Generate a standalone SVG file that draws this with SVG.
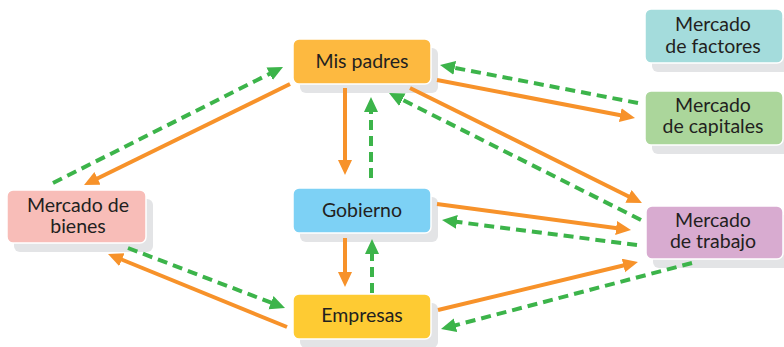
<svg xmlns="http://www.w3.org/2000/svg" width="784" height="347" viewBox="0 0 784 347">
<style>
.sh{fill:#e3e4e6}
.bx{stroke:#ffffff;stroke-width:1.5}
.t{font-family:Lato,"Open Sans","Liberation Sans",sans-serif;font-size:19.5px;fill:#231f20;text-anchor:middle}
.o{stroke:#f7922a;stroke-width:4;fill:none;marker-end:url(#ao)}
.g{stroke:#3cb44a;stroke-width:4;fill:none;stroke-dasharray:10 6;marker-end:url(#ag)}
</style>
<defs>
<marker id="ao" markerUnits="userSpaceOnUse" markerWidth="16" markerHeight="16" refX="3" refY="7" orient="auto"><path d="M0,0 L15,7 L0,14 z" fill="#f7922a"/></marker>
<marker id="ag" markerUnits="userSpaceOnUse" markerWidth="16" markerHeight="16" refX="3" refY="7" orient="auto"><path d="M0,0 L15,7 L0,14 z" fill="#3cb44a"/></marker>
</defs>
<rect width="784" height="347" fill="#ffffff"/>
<g id="mis-padres">
<rect class="sh" x="300" y="48" width="138" height="45" rx="6"/>
<rect class="bx" x="293" y="39" width="138" height="45" rx="6" fill="#fdb940"/>
<text class="t" x="362" y="68">Mis padres</text>
</g>
<g id="gobierno">
<rect class="sh" x="300" y="197" width="138" height="45" rx="6"/>
<rect class="bx" x="293" y="188" width="138" height="45" rx="6" fill="#7dd1f5"/>
<text class="t" x="362" y="217">Gobierno</text>
</g>
<g id="empresas">
<rect class="sh" x="300" y="303" width="138" height="45" rx="6"/>
<rect class="bx" x="293" y="294" width="138" height="45" rx="6" fill="#fecb33"/>
<text class="t" x="362" y="322">Empresas</text>
</g>
<g id="mercado-bienes">
<rect class="sh" x="14" y="199" width="139" height="53" rx="6"/>
<rect class="bx" x="7" y="190" width="139" height="53" rx="6" fill="#f8bdb8"/>
<text class="t" x="78" y="212">Mercado de</text>
<text class="t" x="78" y="233">bienes</text>
</g>
<g id="mercado-factores">
<rect class="sh" x="652" y="18" width="138" height="54" rx="6"/>
<rect class="bx" x="645" y="9" width="138" height="54" rx="6" fill="#a4dcdc"/>
<text class="t" x="713" y="31">Mercado</text>
<text class="t" x="713" y="53">de factores</text>
</g>
<g id="mercado-capitales">
<rect class="sh" x="652" y="100" width="138" height="54" rx="6"/>
<rect class="bx" x="645" y="91" width="138" height="54" rx="6" fill="#abd69b"/>
<text class="t" x="713" y="112">Mercado</text>
<text class="t" x="713" y="133">de capitales</text>
</g>
<g id="mercado-trabajo">
<rect class="sh" x="653" y="215" width="137" height="53" rx="6"/>
<rect class="bx" x="646" y="206" width="137" height="53" rx="6" fill="#d8abd0"/>
<text class="t" x="713" y="227">Mercado</text>
<text class="t" x="713" y="248">de trabajo</text>
</g>
<g id="connectors">
<line class="o" x1="290" y1="84" x2="94.8" y2="179.7"/>
<line class="g" x1="53" y1="183" x2="272.3" y2="72.4"/>
<line class="g" x1="128" y1="248" x2="273.8" y2="303.7"/>
<line class="o" x1="287" y1="327" x2="119.1" y2="258.5"/>
<line class="o" x1="345" y1="88" x2="345" y2="163"/>
<line class="g" x1="371" y1="178" x2="371" y2="109"/>
<line class="o" x1="345" y1="238" x2="345" y2="275"/>
<line class="g" x1="372" y1="293" x2="372" y2="251"/>
<line class="g" x1="641" y1="220" x2="399.7" y2="98.4"/>
<line class="o" x1="410" y1="88" x2="631.2" y2="197.7"/>
<line class="o" x1="437" y1="80" x2="623.2" y2="115.7"/>
<line class="g" x1="638" y1="103" x2="451.8" y2="67.3"/>
<line class="o" x1="437" y1="204" x2="619.1" y2="228.4"/>
<line class="g" x1="637" y1="245" x2="453.9" y2="221.5"/>
<line class="o" x1="438" y1="310" x2="626.3" y2="264.8"/>
<line class="g" x1="692" y1="263" x2="452.6" y2="326"/>
</g>
</svg>
